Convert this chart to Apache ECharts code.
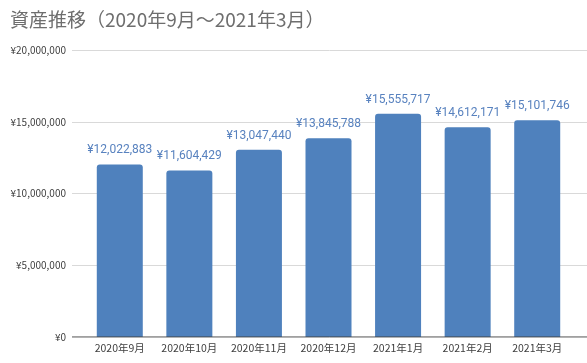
<!DOCTYPE html>
<html><head><meta charset="utf-8">
<script src="https://cdn.jsdelivr.net/npm/echarts@6/dist/echarts.min.js"></script>
<style>html,body{margin:0;padding:0;background:#fff}#c{width:587px;height:363px}</style>
</head><body><div id="c"></div>
<script>
const titleText = '資産推移（2020年9月～2021年3月）';
const categories = ['2020年9月','2020年10月','2020年11月','2020年12月','2021年1月','2021年2月','2021年3月'];
const values = [12022883, 11604429, 13047440, 13845788, 15555717, 14612171, 15101746];
const yTicks = [0, 5000000, 10000000, 15000000, 20000000];

const fmt = v => '¥' + v.toLocaleString('en-US');
const chart = echarts.init(document.getElementById('c'), null, {renderer:'canvas'});
chart.setOption({
  animation:false,
  title:{text:titleText,left:5,top:5,textStyle:{fontFamily:'Noto Sans CJK JP',fontSize:19,fontWeight:'normal',color:'#6e6e6e'}},
  grid:[
    {left:72,right:0,top:50,bottom:26},
    {left:85,right:15,top:50,bottom:26}
  ],
  xAxis:[
    {type:'value',gridIndex:0,show:false,min:0,max:1},
    {type:'category',gridIndex:1,data:categories,
     axisLine:{show:false},axisTick:{show:false},
     axisLabel:{interval:0,hideOverlap:false,fontFamily:'Noto Sans CJK JP',fontSize:10.5,color:'#404040',margin:6}}
  ],
  yAxis:[
    {type:'value',gridIndex:0,min:yTicks[0],max:yTicks[yTicks.length-1],interval:5000000,
     axisLine:{show:false},axisTick:{show:false},
     splitLine:{lineStyle:{color:'#d9d9d9',width:1}},
     axisLabel:{fontFamily:'Noto Sans CJK JP',fontSize:10,color:'#404040',margin:6,formatter:v=>fmt(v)}},
    {type:'value',gridIndex:1,min:yTicks[0],max:yTicks[yTicks.length-1],show:false}
  ],
  series:[
    {type:'line',xAxisIndex:0,yAxisIndex:0,data:[[0,0],[1,0]],symbol:'none',silent:true,
     lineStyle:{color:'#404040',width:1},z:5},
    {type:'bar',xAxisIndex:1,yAxisIndex:1,data:values,barWidth:46,
     itemStyle:{color:'#4F81BD',borderRadius:[3,3,0,0]},
     label:{show:true,position:'top',distance:8,formatter:p=>fmt(p.value),
       fontFamily:'Roboto',fontSize:12,color:'#5882BF'}}
  ]
});
</script></body></html>
